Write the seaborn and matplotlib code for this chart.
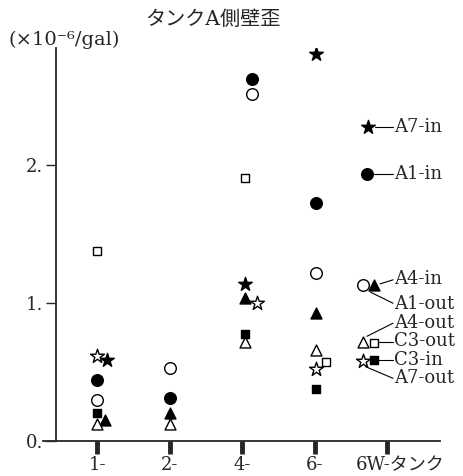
import numpy as np
import pandas as pd
import matplotlib
matplotlib.use("Agg")
import matplotlib.pyplot as plt
import seaborn as sns
from matplotlib.transforms import ScaledTranslation

# ---- data -------------------------------------------------------------
sites = ["1-", "2-", "4-", "6-", "6W-タンク"]
measured_sites = ["1-", "2-", "4-", "6-"]

a7_in = [0.59, np.nan, 1.14, 2.81]
a1_in = [0.44, 0.31, 2.63, 1.73]
a4_in = [0.15, 0.20, 1.04, 0.93]
a1_out = [0.30, 0.53, 2.52, 1.22]
a4_out = [0.12, 0.12, 0.72, 0.66]
c3_out = [1.38, np.nan, 1.91, 0.57]
c3_in = [0.20, np.nan, 0.78, 0.38]
a7_out = [0.62, np.nan, 1.00, 0.52]

series_names = ["A7-in", "A1-in", "A4-in", "A1-out",
                "A4-out", "C3-out", "C3-in", "A7-out"]
series_values = [a7_in, a1_in, a4_in, a1_out, a4_out, c3_out, c3_in, a7_out]

y_ticks = [0, 1, 2]
y_tick_labels = ["0.", "1.", "2."]

# ---- styling ----------------------------------------------------------
# marker, filled?, size (pt^2)
styles = {
    "A7-in": ("*", True, 105),
    "A1-in": ("o", True, 70),
    "A4-in": ("^", True, 62),
    "A1-out": ("o", False, 70),
    "A4-out": ("^", False, 62),
    "C3-out": ("s", False, 40),
    "C3-in": ("s", True, 40),
    "A7-out": ("*", False, 110),
}
# small horizontal nudges so overlapping symbols stay visible
nudge = {
    ("A7-in", "1-"): 0.14, ("A4-in", "1-"): 0.11,
    ("A1-in", "4-"): 0.09, ("A1-out", "4-"): 0.09,
    ("A7-out", "4-"): 0.17, ("C3-out", "6-"): 0.13,
}
site_nudge = {"4-": 0.04, "6-": 0.02}

sns.set_style("ticks")
plt.rcParams["font.family"] = ["DejaVu Serif", "Noto Sans CJK JP"]
plt.rcParams["axes.unicode_minus"] = False

fig = plt.figure(figsize=(4.64, 4.76), dpi=100)
ax = fig.add_axes([0.0927, 0.0735, 0.856, 0.825])

pos = {s: i for i, s in enumerate(sites)}
rows = []
for name, vals in zip(series_names, series_values):
    for site, v in zip(measured_sites, vals):
        if np.isnan(v):
            continue
        x = pos[site] + site_nudge.get(site, 0.0) + nudge.get((name, site), 0.0)
        rows.append({"series": name, "x": x, "value": v})
df = pd.DataFrame(rows)

for name in series_names:
    marker, filled, size = styles[name]
    sub = df[df["series"] == name]
    sns.scatterplot(data=sub, x="x", y="value", marker=marker, s=size,
                    color="black" if filled else "white", edgecolor="black",
                    linewidth=1.0, ax=ax, legend=False, zorder=3)

# ---- in-plot key --------------------------------------------------------
def glyph(x, y, name):
    marker, filled, size = styles[name]
    ax.scatter([x], [y], marker=marker, s=size,
               facecolor="black" if filled else "white",
               edgecolor="black", linewidth=1.0, zorder=4, clip_on=False)

tx = 4.10
kfs = 13
line_kw = dict(color="black", lw=0.8)

glyph(3.74, 2.28, "A7-in")
ax.plot([3.83, 4.08], [2.28, 2.28], **line_kw)
ax.text(tx, 2.28, "A7-in", fontsize=kfs, va="center")

glyph(3.72, 1.94, "A1-in")
ax.plot([3.82, 4.08], [1.94, 1.94], **line_kw)
ax.text(tx, 1.94, "A1-in", fontsize=kfs, va="center")

glyph(3.67, 1.13, "A1-out")
glyph(3.82, 1.13, "A4-in")
ax.plot([3.90, 4.08], [1.14, 1.17], **line_kw)
ax.text(tx, 1.175, "A4-in", fontsize=kfs, va="center")
ax.plot([3.77, 4.08], [1.08, 1.00], **line_kw)
ax.text(tx, 0.995, "A1-out", fontsize=kfs, va="center")

glyph(3.67, 0.72, "A4-out")
glyph(3.82, 0.71, "C3-out")
ax.plot([3.72, 4.08], [0.76, 0.855], **line_kw)
ax.text(tx, 0.86, "A4-out", fontsize=kfs, va="center")
ax.plot([3.88, 4.08], [0.72, 0.72], **line_kw)
ax.text(tx, 0.725, "C3-out", fontsize=kfs, va="center")

glyph(3.66, 0.58, "A7-out")
glyph(3.82, 0.59, "C3-in")
ax.plot([3.88, 4.08], [0.59, 0.59], **line_kw)
ax.text(tx, 0.59, "C3-in", fontsize=kfs, va="center")
ax.plot([3.70, 4.08], [0.54, 0.455], **line_kw)
ax.text(tx, 0.455, "A7-out", fontsize=kfs, va="center")

# ---- axes ---------------------------------------------------------------
ax.set_xlim(-0.745, 4.73)
ax.set_ylim(0, 2.85)
ax.spines["top"].set_visible(False)
ax.spines["right"].set_visible(False)
ax.spines["left"].set_position(("data", -0.57))
ax.spines["left"].set_linewidth(1.3)
ax.spines["bottom"].set_linewidth(1.3)

ax.set_xticks(range(len(sites)))
ax.set_xticklabels(sites, fontsize=13)
ax.tick_params(axis="x", direction="out", length=9, width=3.5, pad=2)
ax.set_yticks(y_ticks)
ax.set_yticklabels(y_tick_labels, fontsize=13)
ax.tick_params(axis="y", direction="out", length=7, width=1.0, pad=2)
last = ax.get_xticklabels()[-1]
last.set_transform(last.get_transform() + ScaledTranslation(13 / 100, 0, fig.dpi_scale_trans))

ax.set_xlabel("")
ax.set_ylabel("")

fig.text(145 / 464, 1 - 19 / 476, "タンクA側壁歪", fontsize=14.5, ha="left", va="center")
fig.text(8 / 464, 1 - 40 / 476, "(×10⁻⁶/gal)", fontsize=14, ha="left", va="center")

fig.savefig("out.png", dpi=100)
